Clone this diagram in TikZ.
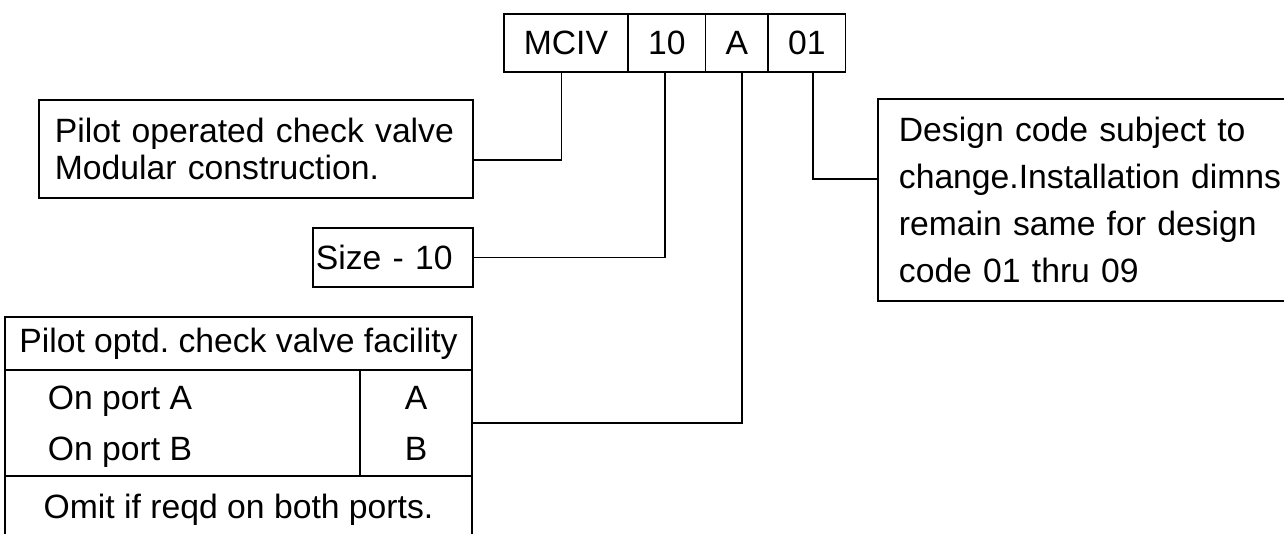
\documentclass[tikz,border=0pt]{standalone}
\usepackage{fontspec}
\setmainfont{Liberation Sans}
\usepackage{tikz}
\usetikzlibrary{matrix}
\frenchspacing

\begin{document}
\begin{tikzpicture}[x=0.5pt,y=-0.5pt,line width=0.9pt,
  font=\fontsize{16.85pt}{18.4pt}\selectfont,
  box/.style={draw,rectangle,inner sep=0pt},
  cell/.style={draw,rectangle,minimum height=29pt,inner xsep=10pt,inner ysep=0pt}]
\clip (0,0) rectangle (1284,534);
\matrix (code) [matrix of nodes,nodes={cell},column sep=-0.9pt,inner sep=0pt,anchor=north west] at (502,12)
{
  MCIV & 10 & A & 01 \\
};
\node[box,anchor=west,minimum width=217pt,minimum height=49pt,text width=201pt,inner xsep=8pt,align=left] (pilot) at (38,149)
  {Pilot operated check valve\\Modular construction.};
\node[box,anchor=west,minimum height=29.5pt,text width=77pt,inner xsep=1.5pt,align=left] (size) at (312,257.5) {Size - 10};
\node[box,anchor=west,minimum height=101pt,text width=200pt,inner xsep=10.5pt,align=left,
  font=\fontsize{16.85pt}{23.35pt}\selectfont] (design) at (877,200)
  {Design code subject to\\change.Installation dimns\\remain same for design\\code 01 thru 09};
% facility table
\node[box,minimum width=233.5pt,minimum height=26.5pt] (head) at (238.5,343.5) {Pilot optd. check valve facility};
\node[box,minimum width=233.5pt,minimum height=53pt] (body) at (238.5,423) {};
\node[box,minimum width=56pt,minimum height=53pt,align=center,font=\fontsize{16.85pt}{25.5pt}\selectfont] (letters) at (416,423) {A\\B};
\node[anchor=west,inner sep=0pt,align=left,font=\fontsize{16.85pt}{25.5pt}\selectfont] (ports) at (47,427) {On port A\\On port B};
\node[box,minimum width=233.5pt,minimum height=34pt] (omit) at (238.5,510) {Omit if reqd on both ports.};
\draw ([xshift=-2.25pt]code-1-1.south) |- ([yshift=-5.5pt]pilot.east);
\draw ([xshift=-0.75pt]code-1-2.south) |- (size.east);
\draw ([xshift=2.5pt]code-1-3.south) |- (body.east);
\draw ([xshift=3.25pt]code-1-4.south) |- ([yshift=10.5pt]design.west);
\end{tikzpicture}
\end{document}
